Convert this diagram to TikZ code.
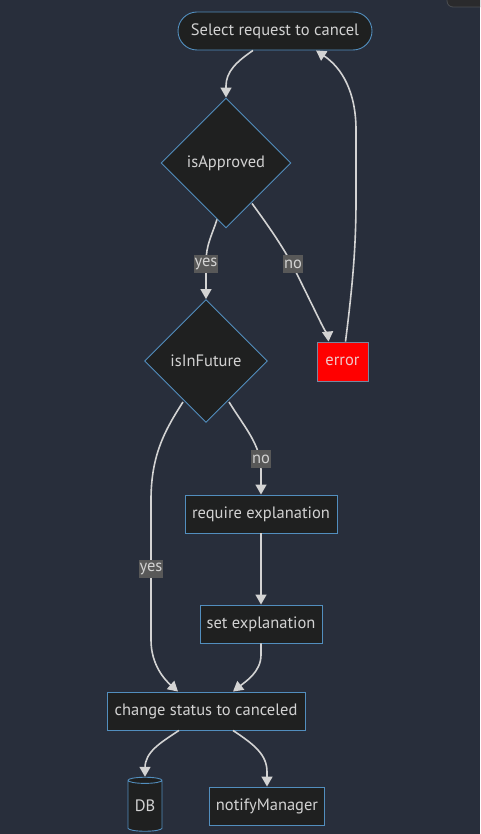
\documentclass[tikz,border=0pt]{standalone}
\usepackage{fontspec}
\setmainfont{PT Sans}
\usetikzlibrary{arrows.meta,shapes.geometric,calc}
\definecolor{bgc}{RGB}{40,46,59}
\definecolor{nodefill}{RGB}{31,32,32}
\definecolor{nodeborder}{RGB}{82,142,190}
\definecolor{txt}{RGB}{210,210,210}
\definecolor{edgec}{RGB}{211,211,211}
\definecolor{lblbg}{RGB}{88,88,88}
\definecolor{errborder}{RGB}{120,135,160}
\definecolor{errtxt}{RGB}{240,200,200}
\definecolor{artfill}{RGB}{42,42,44}
\definecolor{artborder}{RGB}{75,78,82}
\tikzset{
  base/.style={draw=nodeborder, fill=nodefill, text=txt, line width=0.9pt, inner sep=0pt, font=\fontsize{16.5}{19}\selectfont},
  procbox/.style={base, rectangle, minimum height=38pt},
  decision/.style={base, diamond, aspect=1},
  flowedge/.style={draw=edgec, line width=1.6pt, -{Triangle[length=10pt,width=11pt]}},
  elabel/.style={fill=lblbg, text=txt, inner sep=1pt, font=\fontsize{16.5}{19}\selectfont, minimum height=18pt},
}
\begin{document}
\begin{tikzpicture}[x=1pt,y=-1pt]
\fill[bgc] (0,0) rectangle (480,834);
\useasboundingbox (0,0) rectangle (480,834);
% top-right artifact
\begin{scope}
\clip (0,0) rectangle (480,834);
\filldraw[fill=artfill, draw=artborder, line width=0.8pt, rounded corners=6pt] (447,-20) rectangle (500,7);
\end{scope}

% nodes
\node[base, rounded corners=19pt, minimum width=194pt, minimum height=38pt] (start) at (275,31) {Select request to cancel};
\node[decision, minimum width=130pt, minimum height=130pt] (appr) at (226,163) {isApproved};
\node[decision, minimum width=123pt, minimum height=123pt] (fut) at (206,361) {isInFuture};
\node[procbox, fill=red, draw=errborder, text=errtxt, minimum width=51pt, minimum height=39pt] (err) at (342.5,361.5) {error};
\node[procbox, minimum width=152pt] (req) at (261,514) {require explanation};
\node[procbox, minimum width=122pt] (setx) at (261,624) {set explanation};
\node[procbox, minimum width=198pt] (chg) at (206,711) {change status to canceled};
\node[procbox, minimum width=115pt] (notify) at (267,806) {notifyManager};
% DB cylinder
\node[base, cylinder, shape border rotate=90, aspect=0.3, minimum width=34pt, minimum height=54pt] (db) at (145,806) {DB};

% connectors
\draw[flowedge] ([xshift=-22pt]start.south) .. controls (236,62) and (226,72) .. (226,86) -- (appr.north);
\draw[flowedge] ([xshift=-9pt,yshift=9pt]appr.south) .. controls (212,235) and (206,245) .. (206,262) -- (fut.north);
\draw[flowedge] ([xshift=26pt,yshift=25pt]appr.south) .. controls (270,228) and (285,250) .. (295,270) -- (321,323) .. controls (325,331) and (328,336) .. ([xshift=-14pt]err.north);
\draw[flowedge] ([xshift=3pt]err.north) .. controls (352,290) and (356,250) .. (356,200) -- (356,130) .. controls (356,92) and (342,68) .. ([xshift=41pt]start.south);
\draw[flowedge] ([xshift=-23pt,yshift=21pt]fut.south) .. controls (165,430) and (151,455) .. (151,500) -- (151,640) .. controls (151,665) and (165,680) .. ([xshift=-28pt]chg.north);
\draw[flowedge] ([xshift=23pt,yshift=21pt]fut.south) .. controls (245,428) and (261,445) .. (261,470) -- (req.north);
\draw[flowedge] (req.south) -- (setx.north);
\draw[flowedge] (setx.south) -- (261,655) .. controls (261,672) and (245,682) .. ([xshift=27pt]chg.north);
\draw[flowedge] ([xshift=-27pt]chg.south) .. controls (160,743) and (145,752) .. (145,768) -- (db.north);
\draw[flowedge] ([xshift=27pt]chg.south) .. controls (255,745) and (267,755) .. (267,772) -- (notify.north);

% edge labels
\node[elabel] (l1) at (206,264) {yes};
\node[elabel] (l2) at (293,264) {no};
\node[elabel] (l3) at (261,459) {no};
\node[elabel] (l4) at (151,569) {yes};
\end{tikzpicture}
\end{document}
